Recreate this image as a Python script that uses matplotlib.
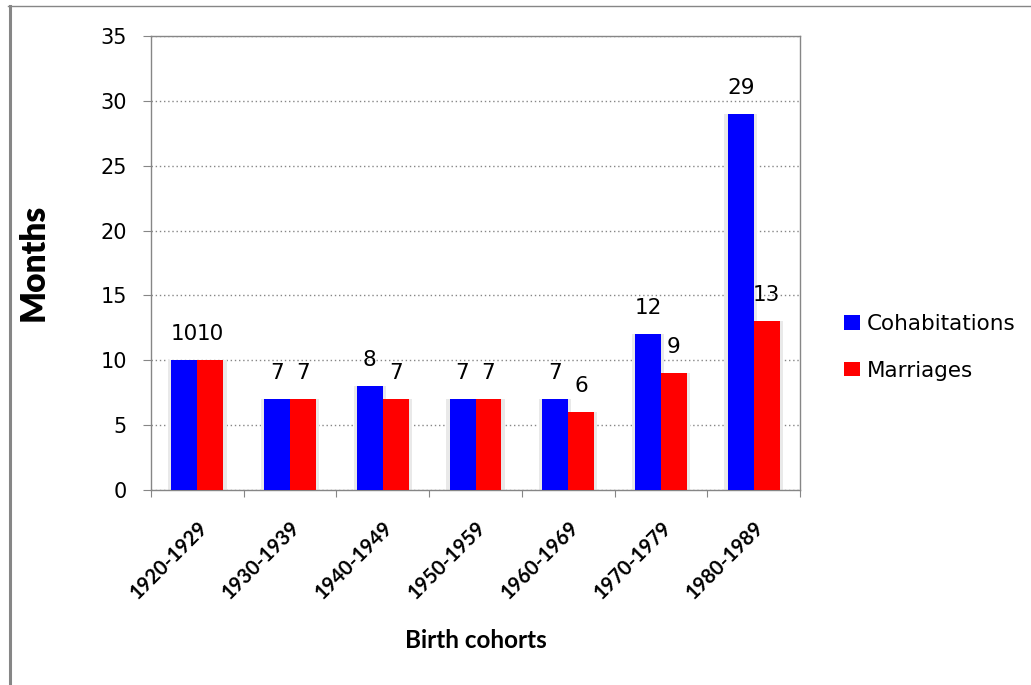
import numpy as np
import matplotlib
matplotlib.use('Agg')
import matplotlib.pyplot as plt
from matplotlib.lines import Line2D

cohorts = ['1920-1929', '1930-1939', '1940-1949', '1950-1959',
           '1960-1969', '1970-1979', '1980-1989']
cohabitations = [10, 7, 8, 7, 7, 12, 29]
marriages = [10, 7, 7, 7, 6, 9, 13]

gray = '#868686'

fig = plt.figure(figsize=(10.31, 6.85), dpi=100)
ax = fig.add_axes([151 / 1031, 1 - 490 / 685, 649 / 1031, 454 / 685])

x = np.arange(len(cohorts))
w = 0.28
# faint Excel-like shadow behind each bar
ax.bar(x - w / 2, cohabitations, w + 0.07, color='#e9e9e9', zorder=2)
ax.bar(x + w / 2 + 0.02, marriages, w + 0.03, color='#e9e9e9', zorder=2)
b1 = ax.bar(x - w / 2, cohabitations, w, color='#0000ff', label='Cohabitations', zorder=3)
b2 = ax.bar(x + w / 2, marriages, w, color='#ff0000', label='Marriages', zorder=3)

# data labels above the bars
for bars, vals in [(b1, cohabitations), (b2, marriages)]:
    for bar, v in zip(bars, vals):
        ax.annotate(str(v), (bar.get_x() + bar.get_width() / 2, v),
                    xytext=(0, 14.4), textcoords='offset points',
                    ha='center', va='baseline', fontsize=15.5,
                    family='DejaVu Sans', color='black')

ax.set_xlim(-0.5, len(cohorts) - 0.5)
ax.set_ylim(0, 35)
ax.set_yticks(range(0, 36, 5))
ax.yaxis.grid(True, linestyle=(0, (1, 2)), color=gray, linewidth=1, zorder=0)

# ticks on group boundaries, labels at group centres
ax.set_xticks(np.arange(-0.5, len(cohorts)), [''] * (len(cohorts) + 1))
ax.set_xticks(x, cohorts, minor=True)
ax.tick_params(axis='x', which='major', length=5, color=gray, direction='out')
ax.tick_params(axis='x', which='minor', length=0, pad=20)
ax.tick_params(axis='y', length=5.8, color=gray, direction='out', pad=11.5, labelsize=15)
for lab in ax.get_xticklabels(minor=True):
    lab.set_rotation(45)
    lab.set_ha('right')
    lab.set_rotation_mode('anchor')
    lab.set_fontfamily('Lato')
    lab.set_fontweight('bold')
    lab.set_fontsize(14.5)
for lab in ax.get_yticklabels():
    lab.set_fontfamily('DejaVu Sans')

for s in ax.spines.values():
    s.set_color(gray)
    s.set_linewidth(1)

fig.text(34 / 1031, 1 - 262 / 685, 'Months', rotation=90, ha='center', va='center',
         fontsize=24, fontweight='heavy', family='Lato')
fig.text(476 / 1031, 1 - 640 / 685, 'Birth cohorts', ha='center', va='center',
         fontsize=17.5, fontweight='bold', family='Lato')

fig.legend(handles=[b1, b2], loc='center left', bbox_to_anchor=(833 / 1031, 0.493),
           frameon=False, handlelength=0.74, handleheight=0.65,
           handletextpad=0.33, labelspacing=1.23, borderpad=0,
           prop={'family': 'DejaVu Sans', 'size': 15.5})

# outer chart border (left and top edges)
fig.add_artist(Line2D([9.5 / 1031, 9.5 / 1031], [0, 1 - 6 / 685], color=gray, linewidth=2.2))
fig.add_artist(Line2D([8 / 1031, 1], [1 - 6 / 685, 1 - 6 / 685], color=gray, linewidth=1))

fig.savefig('out.png', dpi=100)
